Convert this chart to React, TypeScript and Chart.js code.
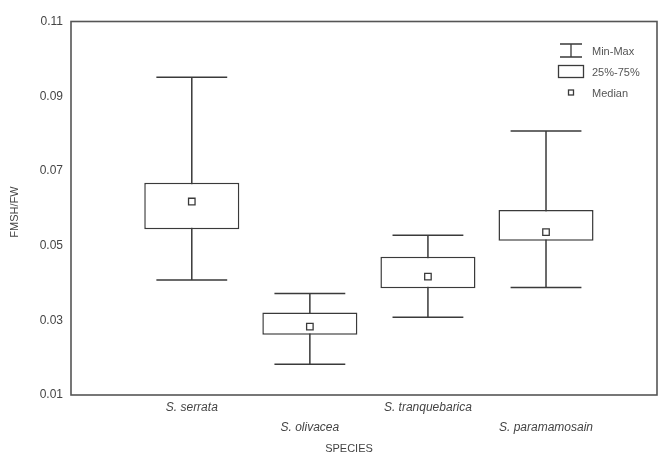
import React, { useEffect, useRef } from "react";
import { Chart, registerables } from "chart.js";

Chart.register(...registerables);

const species = ["S. serrata", "S. olivacea", "S. tranquebarica", "S. paramamosain"];
const positions = [1, 2, 3, 4];
const minValues = [0.0408, 0.0182, 0.0308, 0.0388];
const q1Values = [0.0544, 0.0261, 0.0386, 0.0513];
const medianValues = [0.0618, 0.0283, 0.0417, 0.0536];
const q3Values = [0.0668, 0.0321, 0.047, 0.0595];
const maxValues = [0.0951, 0.0372, 0.0528, 0.0807];
const yTicks = [0.01, 0.03, 0.05, 0.07, 0.09, 0.11];
const legendLabels = ["Min-Max", "25%-75%", "Median"];
const xTitle = "SPECIES";
const yTitle = "FMSH/FW";

const FONT = "'Liberation Sans', Arial, sans-serif";
const LINE = "#3a3a3a";
const TEXT = "#444";
const CAP_HALF = 0.3;

const extrasPlugin = {
  id: "boxExtras",
  beforeDatasetsDraw(chart: any) {
    const { ctx, scales } = chart;
    const x = scales.x;
    const y = scales.y;
    ctx.save();
    ctx.strokeStyle = LINE;
    ctx.lineWidth = 1.5;
    positions.forEach((p, i) => {
      const cx = x.getPixelForValue(p);
      const l = x.getPixelForValue(p - CAP_HALF);
      const r = x.getPixelForValue(p + CAP_HALF);
      const yMax = y.getPixelForValue(maxValues[i]);
      const yMin = y.getPixelForValue(minValues[i]);
      ctx.beginPath();
      ctx.moveTo(cx, yMax);
      ctx.lineTo(cx, yMin);
      ctx.moveTo(l, yMax);
      ctx.lineTo(r, yMax);
      ctx.moveTo(l, yMin);
      ctx.lineTo(r, yMin);
      ctx.stroke();
    });
    ctx.restore();
  },
  afterDraw(chart: any) {
    const { ctx, chartArea } = chart;
    ctx.save();
    // frame
    ctx.strokeStyle = "#555";
    ctx.lineWidth = 1.6;
    ctx.strokeRect(chartArea.left, chartArea.top, chartArea.right - chartArea.left, chartArea.bottom - chartArea.top);

    // legend
    const iconX = 571;
    const textX = 592;
    const rows = [chartArea.top + 29, chartArea.top + 50, chartArea.top + 71];
    ctx.strokeStyle = LINE;
    ctx.lineWidth = 1.3;
    // whisker icon
    ctx.beginPath();
    ctx.moveTo(iconX - 11, rows[0] - 6.5);
    ctx.lineTo(iconX + 11, rows[0] - 6.5);
    ctx.moveTo(iconX, rows[0] - 6.5);
    ctx.lineTo(iconX, rows[0] + 6.5);
    ctx.moveTo(iconX - 11, rows[0] + 6.5);
    ctx.lineTo(iconX + 11, rows[0] + 6.5);
    ctx.stroke();
    // box icon
    ctx.strokeRect(iconX - 12.5, rows[1] - 6, 25, 12);
    // median icon
    ctx.fillStyle = "#fff";
    ctx.fillRect(iconX - 2.5, rows[2] - 2.5, 5, 5);
    ctx.strokeRect(iconX - 2.5, rows[2] - 2.5, 5, 5);

    ctx.fillStyle = "#555";
    ctx.font = `11px ${FONT}`;
    ctx.textAlign = "left";
    ctx.textBaseline = "middle";
    legendLabels.forEach((t, i) => ctx.fillText(t, textX, rows[i] + 1));

    // axis titles
    ctx.fillStyle = TEXT;
    ctx.font = `11px ${FONT}`;
    ctx.textAlign = "center";
    ctx.fillText(xTitle, 349, 449);
    ctx.translate(15, 212);
    ctx.rotate(-Math.PI / 2);
    ctx.fillText(yTitle, 0, 0);
    ctx.restore();
  },
};

export default function App() {
  const ref = useRef<HTMLCanvasElement | null>(null);

  useEffect(() => {
    document.body.style.margin = "0";
    const canvas = ref.current;
    if (!canvas) return;
    const chart = new Chart(canvas, {
      type: "bar",
      data: {
        datasets: [
          {
            type: "scatter",
            label: "Median",
            data: positions.map((p, i) => ({ x: p, y: medianValues[i] })),
            pointStyle: "rect",
            pointRadius: 4.6,
            pointBackgroundColor: "#fff",
            pointBorderColor: LINE,
            pointBorderWidth: 1.3,
            showLine: false,
            order: 0,
          } as any,
          {
            type: "bar",
            label: "25%-75%",
            data: positions.map((p, i) => ({ x: p, y: [q1Values[i], q3Values[i]] })) as any,
            backgroundColor: "#fff",
            borderColor: LINE,
            borderWidth: 1.5,
            borderSkipped: false,
            barPercentage: 0.805,
            categoryPercentage: 1,
            order: 1,
          } as any,
        ],
      },
      options: {
        responsive: false,
        animation: false,
        layout: { autoPadding: false, padding: { top: 21.5, right: 2, left: 0, bottom: 0 } },
        plugins: {
          legend: { display: false },
          tooltip: { enabled: false },
        },
        scales: {
          x: {
            type: "linear",
            offset: false,
            min: -0.023,
            max: 4.94,
            grid: { display: false, drawTicks: false, offset: false },
            border: { display: false },
            afterBuildTicks: (scale: any) => {
              scale.ticks = positions.map((v) => ({ value: v }));
            },
            afterFit: (scale: any) => {
              scale.height = 60;
              scale.paddingLeft = 0;
              scale.paddingRight = 0;
            },
            ticks: {
              autoSkip: false,
              maxRotation: 0,
              minRotation: 0,
              padding: 3.5,
              color: TEXT,
              font: { family: FONT, size: 12, style: "italic", lineHeight: 1.6 },
              callback: (value: any) => {
                const i = positions.indexOf(Number(value));
                if (i < 0) return "";
                return i % 2 === 0 ? species[i] : ["", species[i]];
              },
            },
          },
          y: {
            type: "linear",
            min: 0.01,
            max: 0.11,
            grid: { display: false, drawTicks: false },
            border: { display: false },
            afterBuildTicks: (scale: any) => {
              scale.ticks = yTicks.map((v) => ({ value: v }));
            },
            afterFit: (scale: any) => {
              scale.width = 71;
            },
            ticks: {
              padding: 8,
              color: TEXT,
              font: { family: FONT, size: 12 },
              callback: (value: any) => Number(value).toFixed(2),
            },
          },
        },
      },
      plugins: [extrasPlugin],
    });
    return () => chart.destroy();
  }, []);

  return (
    <canvas
      ref={ref}
      width={659}
      height={455}
      style={{ display: "block", width: 659, height: 455, background: "#fff" }}
    />
  );
}
